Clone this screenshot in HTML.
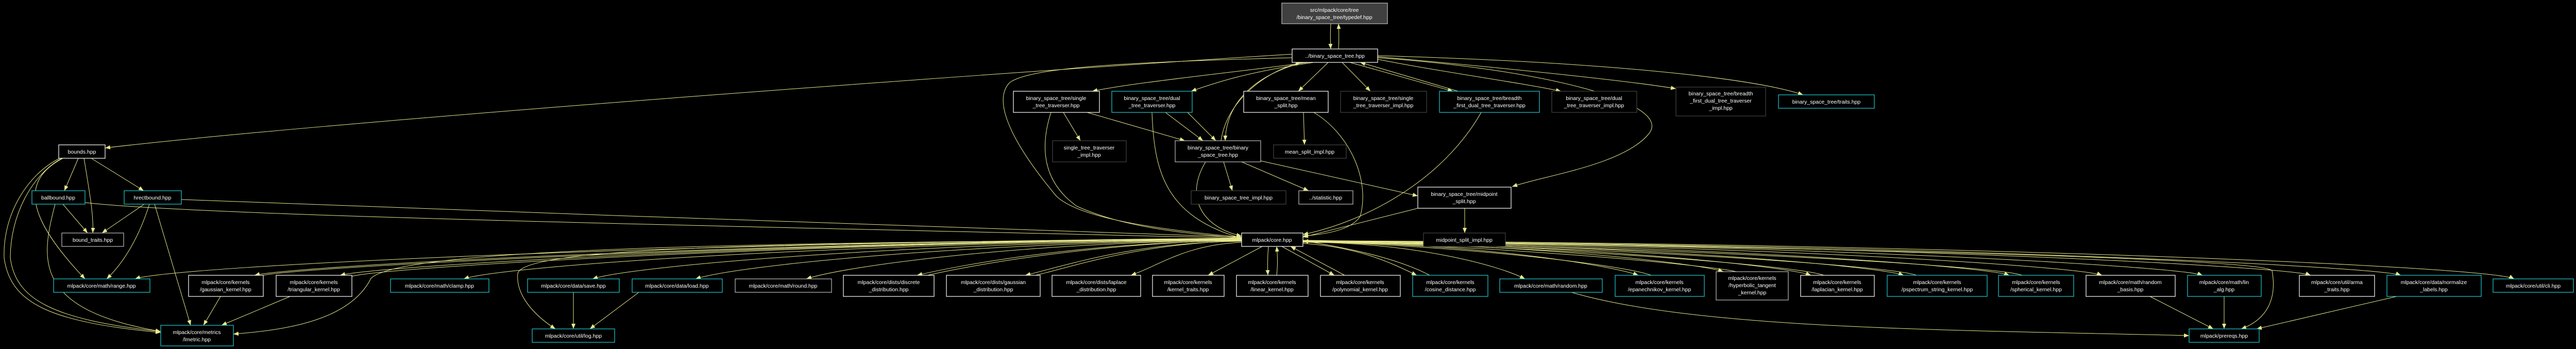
<!DOCTYPE html>
<html><head><meta charset="utf-8"><style>
html,body{margin:0;padding:0;background:#000;}
svg{display:block;}
text{font-family:"Liberation Sans",sans-serif;font-size:10.5px;fill:#fff;text-anchor:middle;}
.w{fill:#000;stroke:#fff;stroke-width:1.2;}
.c{fill:#000;stroke:#1ecad3;stroke-width:1.2;}
.g{fill:#000;stroke:#bfbfbf;stroke-width:1.2;}
.d{fill:#000;stroke:#444;stroke-width:1.2;}
.e{fill:none;stroke:#e8e88c;stroke-width:1;}
</style></head><body>
<svg width="5006" height="677" viewBox="0 0 5006 677" xmlns="http://www.w3.org/2000/svg">
<defs><marker id="a" markerUnits="userSpaceOnUse" markerWidth="10" markerHeight="8" refX="10" refY="4" orient="auto"><path d="M0,0 L10,4 L0,8 z" fill="#e8e88c"/></marker></defs>
<rect width="5006" height="677" fill="#000"/>
<g class="e" marker-end="url(#a)">
<path d="M2583,46 C2582,65 2582,80 2583,95"/>
<path d="M2598,95 C2599,80 2599,65 2598,46"/>
<path d="M2508,105 C1800,150 600,240 204,287"/>
<path d="M2540,121 C2400,140 2200,160 2120,177"/>
<path d="M2550,121 C2420,140 2360,160 2312,177"/>
<path d="M2578,121 L2520,177"/>
<path d="M2605,121 L2660,177"/>
<path d="M2620,121 L2820,177"/>
<path d="M2830,177 L2640,121"/>
<path d="M2674,115 C2800,140 2950,160 3030,177"/>
<path d="M2674,110 C2900,130 3150,155 3253,172"/>
<path d="M2674,108 C3100,120 3400,150 3500,184"/>
<path d="M2674,112 C3000,135 3250,200 3200,260 C3150,320 3000,340 2935,362"/>
<path d="M2530,121 C2420,150 2380,210 2378,273"/>
<path d="M2370,273 C2380,200 2450,140 2525,121"/>
<path d="M2508,112 C2200,120 2000,130 1960,160 C1930,190 1950,260 2050,380 C2100,430 2300,450 2410,460"/>
<path d="M2064,218 L2097,273"/>
<path d="M2110,218 L2300,273"/>
<path d="M2040,218 C2020,280 2020,350 2090,400 C2200,450 2350,455 2410,462"/>
<path d="M2262,218 L2335,273"/>
<path d="M2236,218 C2240,330 2260,420 2410,462"/>
<path d="M2530,218 L2532,281"/>
<path d="M2550,218 C2620,260 2660,350 2640,420 C2620,450 2560,455 2529,458"/>
<path d="M2375,314 L2392,370"/>
<path d="M2410,314 L2540,370"/>
<path d="M2447,312 L2752,380"/>
<path d="M2340,314 C2300,380 2330,440 2410,458"/>
<path d="M2875,218 C2800,350 2650,430 2529,455"/>
<path d="M2752,404 L2529,460"/>
<path d="M2843,404 L2843,452"/>
<path d="M152,307 L125,370"/>
<path d="M163,307 C175,380 182,420 180,452"/>
<path d="M177,307 L279,370"/>
<path d="M122,307 C40,350 50,420 165,541"/>
<path d="M120,307 C60,340 20,420 20,500 C30,580 100,620 312,643"/>
<path d="M116,307 C50,340 5,420 8,500 C20,590 100,625 312,645"/>
<path d="M122,396 L170,452"/>
<path d="M107,396 C80,500 60,600 312,643"/>
<path d="M165,393 C400,420 1500,440 2410,462"/>
<path d="M280,396 L198,452"/>
<path d="M290,396 C270,460 240,510 207,541"/>
<path d="M300,396 L370,631"/>
<path d="M352,387 C1000,410 2000,450 2410,460"/>
<path d="M2410,462 C1336,470 342,515 262,541"/>
<path d="M2410,463 C1452,470 574,515 494,534"/>
<path d="M2410,464 C1535,470 740,515 660,534"/>
<path d="M2410,464 C1500,470 780,480 720,540 C680,620 560,640 453,648"/>
<path d="M2410,465 C1655,470 980,515 900,541"/>
<path d="M2410,465 C1780,470 1230,515 1150,541"/>
<path d="M2410,465 C1500,470 1020,480 1005,530 C1000,580 1050,620 1078,638"/>
<path d="M2410,466 C1880,470 1430,515 1350,541"/>
<path d="M2410,466 C1988,470 1645,515 1565,541"/>
<path d="M2410,467 C2095,470 1860,515 1780,534"/>
<path d="M2410,468 C2200,470 2070,515 1990,534"/>
<path d="M2410,470 C2300,475 2250,515 2195,534"/>
<path d="M2450,478 L2345,534"/>
<path d="M2462,478 C2460,500 2460,515 2461,534"/>
<path d="M2478,534 C2480,515 2480,500 2478,478"/>
<path d="M2488,478 L2590,534"/>
<path d="M2610,534 L2505,478"/>
<path d="M2529,472 C2640,480 2700,510 2750,534"/>
<path d="M2775,534 C2720,505 2640,485 2529,467"/>
<path d="M2529,470 C2745,470 2910,515 2960,541"/>
<path d="M2529,470 C2855,470 3130,515 3180,534"/>
<path d="M3205,534 C3155,515 2855,478 2529,468"/>
<path d="M2529,470 C2937,470 3295,510 3345,527"/>
<path d="M3370,527 C3320,515 2937,478 2529,468"/>
<path d="M2529,470 C3022,470 3465,515 3515,534"/>
<path d="M3540,534 C3490,515 3022,478 2529,468"/>
<path d="M2529,470 C3112,470 3645,515 3695,534"/>
<path d="M3720,534 C3670,515 3112,478 2529,468"/>
<path d="M2529,470 C3215,470 3850,515 3900,534"/>
<path d="M3925,534 C3875,515 3215,478 2529,468"/>
<path d="M2529,469 C3305,470 4030,515 4080,534"/>
<path d="M2529,469 C3400,470 4225,515 4275,534"/>
<path d="M2529,466 C3500,480 4390,500 4410,525 C4420,580 4400,620 4350,638"/>
<path d="M2529,468 C3507,470 4435,515 4485,534"/>
<path d="M2529,468 C3595,470 4610,515 4660,534"/>
<path d="M2529,467 C3705,470 4830,515 4880,541"/>
<path d="M3050,567 C3300,640 3800,640 4249,651"/>
<path d="M4173,575 L4296,638"/>
<path d="M4317,575 L4317,638"/>
<path d="M4652,575 L4380,638"/>
<path d="M428,575 L395,631"/>
<path d="M563,575 L430,631"/>
<path d="M1113,567 L1113,638"/>
<path d="M1240,567 L1145,638"/>
<path d="M2305,218 L2360,273"/>
</g>
<g class="e">
<path d="M2410,462 C1460,472 584,518 511,534"/>
<path d="M2410,463 C1545,472 750,518 683,536"/>
<path d="M2410,466 C2105,472 1870,518 1800,534"/>
<path d="M2410,467 C2210,472 2080,518 2010,534"/>
</g>
<!-- nodes -->
<rect x="2488" y="6" width="205" height="40" fill="#404040" stroke="#bfbfbf" stroke-width="1.2"/>
<text x="2590" y="23">src/mlpack/core/tree</text><text x="2590" y="37">/binary_space_tree/typedef.hpp</text>
<rect class="w" x="2508" y="95" width="166" height="26"/><text x="2591" y="112">../binary_space_tree.hpp</text>
<rect class="w" x="114" y="281" width="90" height="26"/><text x="159" y="298">bounds.hpp</text>
<rect class="c" x="62" y="370" width="103" height="26"/><text x="113" y="387">ballbound.hpp</text>
<rect class="c" x="241" y="370" width="111" height="26"/><text x="296" y="387">hrectbound.hpp</text>
<rect class="g" x="120" y="452" width="120" height="26"/><text x="180" y="469">bound_traits.hpp</text>
<rect class="c" x="104" y="541" width="187" height="26"/><text x="197" y="558">mlpack/core/math/range.hpp</text>
<rect class="w" x="366" y="534" width="145" height="41"/><text x="438" y="551">mlpack/core/kernels</text><text x="438" y="565">/gaussian_kernel.hpp</text>
<rect class="w" x="536" y="534" width="147" height="41"/><text x="609" y="551">mlpack/core/kernels</text><text x="609" y="565">/triangular_kernel.hpp</text>
<rect class="c" x="312" y="631" width="141" height="40"/><text x="382" y="648">mlpack/core/metrics</text><text x="382" y="662">/lmetric.hpp</text>
<rect class="c" x="758" y="541" width="191" height="26"/><text x="853" y="558">mlpack/core/math/clamp.hpp</text>
<rect class="c" x="1024" y="541" width="178" height="26"/><text x="1113" y="558">mlpack/core/data/save.hpp</text>
<rect class="c" x="1033" y="638" width="160" height="26"/><text x="1113" y="655">mlpack/core/util/log.hpp</text>
<rect class="c" x="1227" y="541" width="175" height="26"/><text x="1314" y="558">mlpack/core/data/load.hpp</text>
<rect class="g" x="1427" y="541" width="187" height="26"/><text x="1520" y="558">mlpack/core/math/round.hpp</text>
<rect class="w" x="1637" y="534" width="176" height="41"/><text x="1725" y="551">mlpack/core/dists/discrete</text><text x="1725" y="565">_distribution.hpp</text>
<rect class="w" x="1837" y="534" width="182" height="41"/><text x="1928" y="551">mlpack/core/dists/gaussian</text><text x="1928" y="565">_distribution.hpp</text>
<rect class="w" x="2042" y="534" width="172" height="41"/><text x="2128" y="551">mlpack/core/dists/laplace</text><text x="2128" y="565">_distribution.hpp</text>
<rect class="w" x="2237" y="534" width="139" height="41"/><text x="2306" y="551">mlpack/core/kernels</text><text x="2306" y="565">/kernel_traits.hpp</text>
<rect class="w" x="2400" y="534" width="139" height="41"/><text x="2469" y="551">mlpack/core/kernels</text><text x="2469" y="565">/linear_kernel.hpp</text>
<rect class="w" x="2563" y="534" width="155" height="41"/><text x="2640" y="551">mlpack/core/kernels</text><text x="2640" y="565">/polynomial_kernel.hpp</text>
<rect class="c" x="2742" y="534" width="146" height="41"/><text x="2815" y="551">mlpack/core/kernels</text><text x="2815" y="565">/cosine_distance.hpp</text>
<rect class="c" x="2911" y="541" width="199" height="26"/><text x="3010" y="558">mlpack/core/math/random.hpp</text>
<rect class="c" x="3135" y="534" width="173" height="41"/><text x="3221" y="551">mlpack/core/kernels</text><text x="3221" y="565">/epanechnikov_kernel.hpp</text>
<rect class="g" x="3331" y="527" width="140" height="55"/><text x="3401" y="543">mlpack/core/kernels</text><text x="3401" y="557">/hyperbolic_tangent</text><text x="3401" y="571">_kernel.hpp</text>
<rect class="w" x="3495" y="534" width="143" height="41"/><text x="3566" y="551">mlpack/core/kernels</text><text x="3566" y="565">/laplacian_kernel.hpp</text>
<rect class="c" x="3663" y="534" width="194" height="41"/><text x="3760" y="551">mlpack/core/kernels</text><text x="3760" y="565">/pspectrum_string_kernel.hpp</text>
<rect class="c" x="3879" y="534" width="146" height="41"/><text x="3952" y="551">mlpack/core/kernels</text><text x="3952" y="565">/spherical_kernel.hpp</text>
<rect class="w" x="4049" y="534" width="173" height="41"/><text x="4135" y="551">mlpack/core/math/random</text><text x="4135" y="565">_basis.hpp</text>
<rect class="c" x="4246" y="534" width="143" height="41"/><text x="4317" y="551">mlpack/core/math/lin</text><text x="4317" y="565">_alg.hpp</text>
<rect class="w" x="4463" y="534" width="146" height="41"/><text x="4536" y="551">mlpack/core/util/arma</text><text x="4536" y="565">_traits.hpp</text>
<rect class="c" x="4633" y="534" width="183" height="41"/><text x="4724" y="551">mlpack/core/data/normalize</text><text x="4724" y="565">_labels.hpp</text>
<rect class="c" x="4839" y="541" width="156" height="26"/><text x="4917" y="558">mlpack/core/util/cli.hpp</text>
<rect class="c" x="4249" y="638" width="136" height="26"/><text x="4317" y="655">mlpack/prereqs.hpp</text>
<rect class="w" x="2410" y="452" width="119" height="26"/><text x="2469" y="469">mlpack/core.hpp</text>
<rect class="w" x="1967" y="177" width="167" height="41"/><text x="2050" y="194">binary_space_tree/single</text><text x="2050" y="208">_tree_traverser.hpp</text>
<rect class="c" x="2158" y="177" width="156" height="41"/><text x="2236" y="194">binary_space_tree/dual</text><text x="2236" y="208">_tree_traverser.hpp</text>
<rect class="w" x="2414" y="177" width="164" height="41"/><text x="2496" y="194">binary_space_tree/mean</text><text x="2496" y="208">_split.hpp</text>
<rect class="d" x="2043" y="273" width="143" height="41"/><text x="2114" y="290">single_tree_traverser</text><text x="2114" y="304">_impl.hpp</text>
<rect class="g" x="2281" y="273" width="166" height="41"/><text x="2364" y="290">binary_space_tree/binary</text><text x="2364" y="304">_space_tree.hpp</text>
<rect class="d" x="2312" y="370" width="184" height="26"/><text x="2404" y="387">binary_space_tree_impl.hpp</text>
<rect class="d" x="2472" y="281" width="141" height="26"/><text x="2542" y="298">mean_split_impl.hpp</text>
<rect class="d" x="2602" y="177" width="167" height="41"/><text x="2685" y="194">binary_space_tree/single</text><text x="2685" y="208">_tree_traverser_impl.hpp</text>
<rect class="c" x="2794" y="177" width="194" height="41"/><text x="2891" y="194">binary_space_tree/breadth</text><text x="2891" y="208">_first_dual_tree_traverser.hpp</text>
<rect class="d" x="3012" y="177" width="165" height="41"/><text x="3094" y="194">binary_space_tree/dual</text><text x="3094" y="208">_tree_traverser_impl.hpp</text>
<rect class="d" x="3253" y="169" width="174" height="56"/><text x="3340" y="185">binary_space_tree/breadth</text><text x="3340" y="199">_first_dual_tree_traverser</text><text x="3340" y="213">_impl.hpp</text>
<rect class="c" x="3452" y="184" width="186" height="26"/><text x="3545" y="201">binary_space_tree/traits.hpp</text>
<rect class="g" x="2521" y="370" width="105" height="26"/><text x="2573" y="387">../statistic.hpp</text>
<rect class="w" x="2752" y="363" width="181" height="41"/><text x="2842" y="380">binary_space_tree/midpoint</text><text x="2842" y="394">_split.hpp</text>
<rect class="d" x="2763" y="452" width="159" height="26"/><text x="2842" y="469">midpoint_split_impl.hpp</text>
</svg>
</body></html>
